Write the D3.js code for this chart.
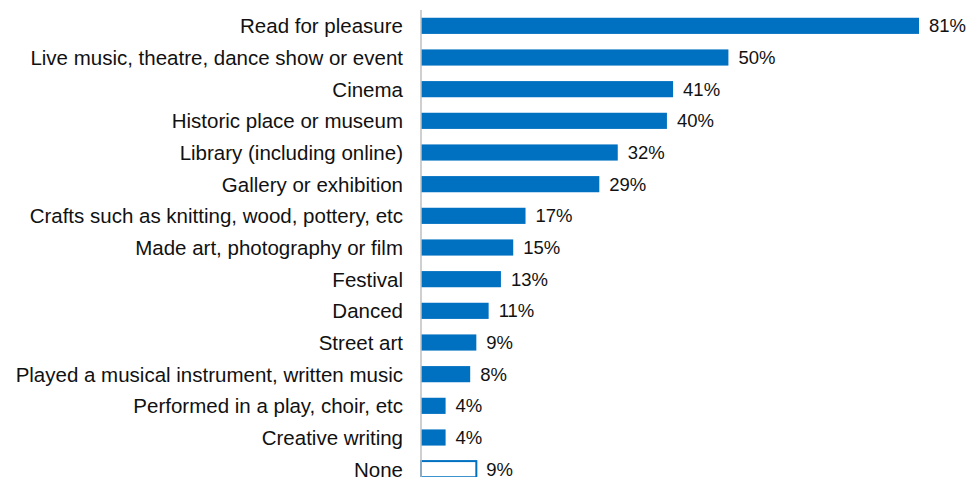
<!DOCTYPE html>
<html>
<head>
<meta charset="utf-8">
<script src="https://cdn.jsdelivr.net/npm/d3@7"></script>
<style>
  html, body { margin: 0; padding: 0; background: #fff; }
  svg { display: block; }
  text { font-family: "Liberation Sans", Arial, sans-serif; fill: #111; }
</style>
</head>
<body>
<svg id="chart" width="969" height="477"></svg>
<script>
// Share of people taking part in each activity (%)
const categories = [
  "Read for pleasure",
  "Live music, theatre, dance show or event",
  "Cinema",
  "Historic place or museum",
  "Library (including online)",
  "Gallery or exhibition",
  "Crafts such as knitting, wood, pottery, etc",
  "Made art, photography or film",
  "Festival",
  "Danced",
  "Street art",
  "Played a musical instrument, written music",
  "Performed in a play, choir, etc",
  "Creative writing",
  "None"
];
const values = [81, 50, 41, 40, 32, 29, 17, 15, 13, 11, 9, 8, 4, 4, 9];
const outlinedCategories = ["None"];

const svg = d3.select("#chart");
const x0 = 421;

const x = d3.scaleLinear().domain([0, 81]).range([x0, 919]);
const y = d3.scaleBand().domain(categories).range([10, 485]).paddingInner(0.49).paddingOuter(0.245);

const rows = categories.map((c, i) => ({ c, v: values[i], outlined: outlinedCategories.includes(c) }));

// bars
svg.append("g").selectAll("rect").data(rows).join("rect")
  .attr("x", x(0))
  .attr("y", d => y(d.c))
  .attr("width", d => x(d.v) - x(0))
  .attr("height", y.bandwidth())
  .attr("fill", d => d.outlined ? "#ffffff" : "#0070c0")
  .attr("stroke", d => d.outlined ? "#0070c0" : "none")
  .attr("stroke-width", 2);

// category axis line
svg.append("line")
  .attr("x1", x0).attr("x2", x0)
  .attr("y1", 10).attr("y2", 485)
  .attr("stroke", "#bfbfbf").attr("stroke-width", 1.5);

// category labels
svg.append("g").selectAll("text").data(rows).join("text")
  .attr("x", 403)
  .attr("y", d => y(d.c) + y.bandwidth() / 2)
  .attr("dy", "0.36em")
  .attr("text-anchor", "end")
  .style("font-size", "20.5px")
  .text(d => d.c);

// value labels
svg.append("g").selectAll("text").data(rows).join("text")
  .attr("x", d => x(d.v) + 10)
  .attr("y", d => y(d.c) + y.bandwidth() / 2)
  .attr("dy", "0.36em")
  .style("font-size", "18.5px")
  .text(d => d.v + "%");
</script>
</body>
</html>
